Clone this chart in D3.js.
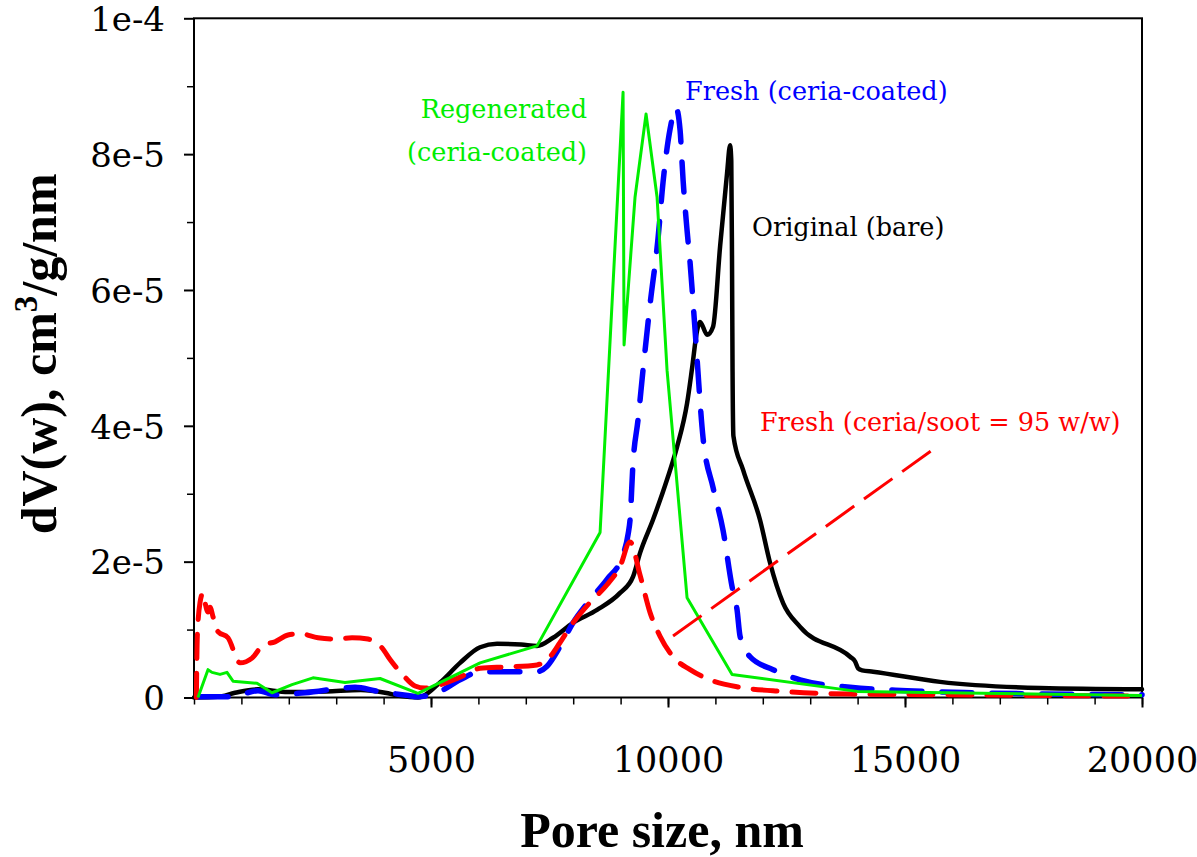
<!DOCTYPE html>
<html>
<head>
<meta charset="utf-8">
<script src="https://cdn.jsdelivr.net/npm/d3@7"></script>
<style>
  html, body { margin: 0; padding: 0; background: #ffffff; }
  svg { display: block; }
</style>
</head>
<body>
<svg id="chart" width="1197" height="857"></svg>
<script>
// Pore size distribution, dV(w) in cm3/g/nm versus pore size in nm

// Original (bare) filter
const originalSize = [0, 500, 865, 1350, 1983, 2800, 3523, 4030, 4368, 4726, 5190, 5613, 6035, 6393, 6900, 7237,
  7575, 7997, 8503, 8989, 9263, 9411, 9685, 9980, 10191, 10402, 10508, 10613, 10677, 10825, 10951, 11099, 11246,
  11310, 11335, 11350, 11362, 11380, 11584, 11943, 12154, 12428, 12787, 13842, 13947, 14010, 14095, 14327, 15741,
  17851, 20000];
const originalDV = [0, 0.01e-5, 0.07e-5, 0.12e-5, 0.08e-5, 0.09e-5, 0.11e-5, 0.07e-5, 0.02e-5, 0.0, 0.22e-5, 0.51e-5,
  0.74e-5, 0.79e-5, 0.78e-5, 0.76e-5, 0.88e-5, 1.10e-5, 1.29e-5, 1.54e-5, 1.78e-5, 2.13e-5, 2.62e-5, 3.21e-5,
  3.69e-5, 4.33e-5, 4.85e-5, 5.40e-5, 5.53e-5, 5.34e-5, 5.46e-5, 6.64e-5, 7.72e-5, 8.13e-5, 7.9e-5, 6.5e-5, 4.8e-5,
  3.85e-5, 3.35e-5, 2.61e-5, 1.98e-5, 1.39e-5, 1.04e-5, 0.60e-5, 0.53e-5, 0.43e-5, 0.40e-5, 0.38e-5, 0.23e-5,
  0.14e-5, 0.12e-5];

// Fresh (ceria-coated) filter
const freshCoatedSize = [84, 781, 1350, 1709, 2342, 3397, 3882, 4515, 4726, 5190, 5613, 6035, 7237, 7448, 7723, 7997,
  8356, 8714, 9031, 9157, 9200, 9262, 9368, 9473, 9622, 9790, 9896, 10044, 10170, 10255, 10318, 10402, 10466, 10571,
  10740, 10951, 11162, 11352, 11457, 11521, 11732, 12217, 12787, 13842, 15044, 16437, 20000];
const freshCoatedDV = [0.01e-5, 0.01e-5, 0.10e-5, 0.04e-5, 0.07e-5, 0.15e-5, 0.09e-5, 0.03e-5, 0.01e-5, 0.09e-5,
  0.26e-5, 0.38e-5, 0.38e-5, 0.46e-5, 0.75e-5, 1.10e-5, 1.44e-5, 1.74e-5, 2.07e-5, 2.40e-5, 2.62e-5, 3.45e-5,
  4.09e-5, 4.82e-5, 5.79e-5, 6.76e-5, 7.59e-5, 8.37e-5, 8.68e-5, 8.35e-5, 7.62e-5, 6.88e-5, 6.40e-5, 5.41e-5,
  3.82e-5, 3.09e-5, 2.46e-5, 1.63e-5, 1.29e-5, 0.90e-5, 0.60e-5, 0.41e-5, 0.26e-5, 0.15e-5, 0.10e-5, 0.07e-5,
  0.04e-5];

// Fresh (ceria/soot = 95 w/w) filter
const freshSootSize = [50, 70, 127, 190, 232, 295, 338, 401, 506, 717, 971, 1224, 1456, 1709, 1983, 2237, 2616, 2975,
  3334, 3671, 3967, 4136, 4410, 4663, 4874, 5148, 5613, 6035, 6604, 7237, 7512, 7723, 7997, 8356, 8714, 8989, 9200,
  9411, 9622, 9833, 10107, 10466, 10888, 11521, 12428, 13842, 15741, 20000];
const freshSootDV = [0, 0.90e-5, 1.40e-5, 1.54e-5, 1.40e-5, 1.26e-5, 1.33e-5, 1.19e-5, 0.97e-5, 0.88e-5, 0.51e-5,
  0.58e-5, 0.77e-5, 0.82e-5, 0.92e-5, 0.94e-5, 0.88e-5, 0.86e-5, 0.88e-5, 0.86e-5, 0.73e-5, 0.56e-5, 0.33e-5,
  0.17e-5, 0.14e-5, 0.18e-5, 0.30e-5, 0.43e-5, 0.45e-5, 0.48e-5, 0.60e-5, 0.81e-5, 1.10e-5, 1.40e-5, 1.66e-5,
  1.93e-5, 2.29e-5, 1.80e-5, 1.25e-5, 0.90e-5, 0.60e-5, 0.41e-5, 0.26e-5, 0.15e-5, 0.09e-5, 0.05e-5, 0.04e-5,
  0.02e-5];

// Regenerated (ceria-coated) filter
const regeneratedSize = [84, 295, 380, 549, 696, 823, 1329, 1646, 2068, 2511, 3186, 3925, 4726, 6035, 7237, 8567,
  9052, 9073, 9305, 9537, 9769, 9980, 10402, 11352, 13989, 20000];
const regeneratedDV = [0, 0.41e-5, 0.37e-5, 0.34e-5, 0.37e-5, 0.24e-5, 0.21e-5, 0.07e-5, 0.19e-5, 0.29e-5, 0.22e-5,
  0.28e-5, 0.06e-5, 0.51e-5, 0.76e-5, 2.43e-5, 8.91e-5, 5.19e-5, 7.37e-5, 8.59e-5, 7.37e-5, 4.82e-5, 1.47e-5,
  0.34e-5, 0.09e-5, 0.03e-5];

// Leader line from the ceria/soot label down to its curve
const pointerSize = [10107, 15548];
const pointerDV = [0.905e-5, 3.63e-5];

// Axis ticks
const xTickValues = [5000, 10000, 15000, 20000];
const xTickLabels = ["5000", "10000", "15000", "20000"];
const xMinorTicks = d3.range(0, 20001, 1000);
const yTickValues = [0, 2e-5, 4e-5, 6e-5, 8e-5, 1e-4];
const yTickLabels = ["0", "2e-5", "4e-5", "6e-5", "8e-5", "1e-4"];
const yMinorTicks = [1e-5, 3e-5, 5e-5, 7e-5, 9e-5];

const svg = d3.select("#chart");
const W = 1197, H = 857;
const margin = { top: 18.3, right: 55, bottom: 159.5, left: 194 };

const x = d3.scaleLinear().domain([0, 20000]).range([margin.left, W - margin.right]);
const y = d3.scaleLinear().domain([0, 1e-4]).range([H - margin.bottom, margin.top]);

const tickFont = "'DejaVu Serif', serif";
const titleFont = "'Liberation Serif', 'Times New Roman', serif";

// Frame
svg.append("rect")
  .attr("x", x(0)).attr("y", y(1e-4))
  .attr("width", x(20000) - x(0)).attr("height", y(0) - y(1e-4))
  .attr("fill", "none").attr("stroke", "#000").attr("stroke-width", 2);

// Minor ticks
svg.append("g")
  .attr("transform", `translate(0,${y(0)})`)
  .call(d3.axisBottom(x).tickValues(xMinorTicks).tickSize(7).tickSizeOuter(0).tickFormat(""))
  .call(g => g.select(".domain").remove())
  .call(g => g.selectAll("line").attr("stroke", "#000").attr("stroke-width", 1.5));
svg.append("g")
  .attr("transform", `translate(${x(0)},0)`)
  .call(d3.axisLeft(y).tickValues(yMinorTicks).tickSize(7).tickSizeOuter(0).tickFormat(""))
  .call(g => g.select(".domain").remove())
  .call(g => g.selectAll("line").attr("stroke", "#000").attr("stroke-width", 1.5));

// Major ticks and labels
const xAxis = svg.append("g")
  .attr("transform", `translate(0,${y(0)})`)
  .call(d3.axisBottom(x).tickValues(xTickValues).tickSize(10).tickSizeOuter(0)
    .tickFormat((d, i) => xTickLabels[i]).tickPadding(40));
xAxis.select(".domain").remove();
xAxis.selectAll("line").attr("stroke", "#000").attr("stroke-width", 2);
xAxis.selectAll("text")
  .attr("font-family", tickFont).attr("font-size", 35).attr("fill", "#000")
  .attr("dy", "0.71em");

const yAxis = svg.append("g")
  .attr("transform", `translate(${x(0)},0)`)
  .call(d3.axisLeft(y).tickValues(yTickValues).tickSize(10).tickSizeOuter(0)
    .tickFormat((d, i) => yTickLabels[i]).tickPadding(19));
yAxis.select(".domain").remove();
yAxis.selectAll("line").attr("stroke", "#000").attr("stroke-width", 2);
yAxis.selectAll("text")
  .attr("font-family", tickFont).attr("font-size", 34).attr("fill", "#000")
  .attr("dy", "0.36em");

// Axis titles
svg.append("text")
  .attr("x", (x(0) + x(20000)) / 2 - 6).attr("y", 847)
  .attr("text-anchor", "middle")
  .attr("font-family", titleFont).attr("font-weight", "bold").attr("font-size", 50)
  .text("Pore size, nm");

const yTitle = svg.append("text")
  .attr("transform", `translate(56,${(y(0) + y(1e-4)) / 2 - 4}) rotate(-90)`)
  .attr("text-anchor", "middle")
  .attr("font-family", titleFont).attr("font-weight", "bold").attr("font-size", 50);
yTitle.append("tspan").text("dV(w), cm");
yTitle.append("tspan").attr("font-size", 33).attr("dy", -19).text("3");
yTitle.append("tspan").attr("dy", 19).text("/g/nm");

// Curves
const plot = svg.append("g");
function drawSeries(sizes, values, curve, color, width, dash, cap) {
  const pts = sizes.map((s, i) => [s, values[i]]);
  const line = d3.line().x(d => x(d[0])).y(d => y(d[1])).curve(curve);
  plot.append("path")
    .datum(pts)
    .attr("d", line)
    .attr("fill", "none")
    .attr("stroke", color)
    .attr("stroke-width", width)
    .attr("stroke-linejoin", "round")
    .attr("stroke-linecap", cap)
    .attr("stroke-dasharray", dash);
}

drawSeries(originalSize, originalDV, d3.curveMonotoneX, "#000000", 4.5, null, "round");
drawSeries(freshCoatedSize, freshCoatedDV, d3.curveMonotoneX, "#0000ff", 5.5, "30,20", "round");
drawSeries(freshSootSize, freshSootDV, d3.curveMonotoneX, "#ff0000", 5, "24,15", "round");
drawSeries(regeneratedSize, regeneratedDV, d3.curveLinear, "#00ee00", 3, null, "butt");
drawSeries(pointerSize, pointerDV, d3.curveLinear, "#ff0000", 3, "35,12", "butt");

// Series labels
const labelFont = "'DejaVu Serif', serif";
const labels = [
  { text: "Regenerated", sx: 8292, v: 8.53e-5, anchor: "end", color: "#00ee00" },
  { text: "(ceria-coated)", sx: 8292, v: 7.90e-5, anchor: "end", color: "#00ee00" },
  { text: "Fresh (ceria-coated)", sx: 10360, v: 8.80e-5, anchor: "start", color: "#0000ff" },
  { text: "Original (bare)", sx: 11774, v: 6.79e-5, anchor: "start", color: "#000000" },
  { text: "Fresh (ceria/soot = 95 w/w)", sx: 11943, v: 3.92e-5, anchor: "start", color: "#ff0000" }
];
svg.append("g").selectAll("text")
  .data(labels)
  .join("text")
  .attr("x", d => x(d.sx))
  .attr("y", d => y(d.v))
  .attr("text-anchor", d => d.anchor)
  .attr("font-family", labelFont)
  .attr("font-size", 25.5)
  .attr("fill", d => d.color)
  .text(d => d.text);
</script>
</body>
</html>
